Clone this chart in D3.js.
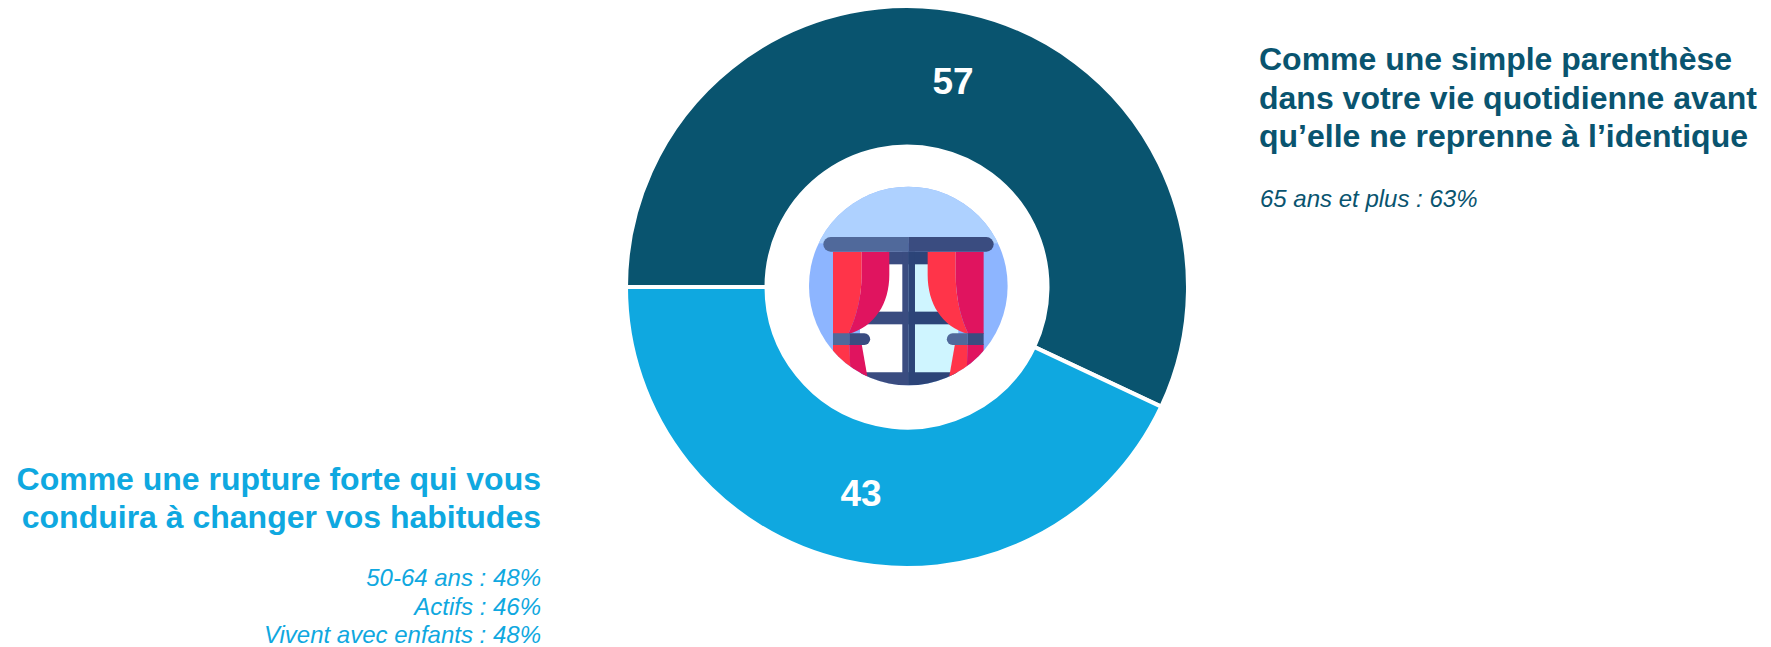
<!DOCTYPE html>
<html><head><meta charset="utf-8">
<script src="https://cdn.jsdelivr.net/npm/d3@7"></script>
<style>html,body{margin:0;padding:0;background:#fff}svg{display:block}text{font-family:"Liberation Sans",Arial,sans-serif}</style>
</head><body><svg id="c" width="1771" height="647"></svg>
<script>
const categories = ["Comme une simple parenthèse dans votre vie quotidienne avant qu’elle ne reprenne à l’identique","Comme une rupture forte qui vous conduira à changer vos habitudes"];
const values = [57,43];
const colors = ["#09546F","#0FA8E0"];
const titleRight = ["Comme une simple parenthèse","dans votre vie quotidienne avant","qu’elle ne reprenne à l’identique"];
const noteRight = ["65 ans et plus : 63%"];
const titleLeft = ["Comme une rupture forte qui vous","conduira à changer vos habitudes"];
const noteLeft = ["50-64 ans : 48%","Actifs : 46%","Vivent avec enfants : 48%"];

const svg = d3.select("#c");
const cx=907, cy=287, R=281, r=140.5;
const pie = d3.pie().sort(null).startAngle(-Math.PI/2).endAngle(Math.PI*1.5);
const arc = d3.arc().innerRadius(r).outerRadius(R);
const g = svg.append("g").attr("transform",`translate(${cx},${cy})`);
const arcs = pie(values);
g.selectAll("path").data(arcs).join("path").attr("d",arc)
  .attr("fill",(d,i)=>colors[i]).attr("stroke","#fff").attr("stroke-width",4);
g.selectAll("text").data(arcs).join("text")
  .attr("x",d=>arc.centroid(d)[0]).attr("y",d=>arc.centroid(d)[1]+13)
  .attr("text-anchor","middle").attr("font-weight","700").attr("font-size",37).attr("fill","#fff").text(d=>d.value);

function lines(arr,x,ys,anchor,size,weight,style,color){
  svg.append("g").selectAll("text").data(arr).join("text")
   .attr("x",x).attr("y",(d,i)=>ys[i]).attr("text-anchor",anchor).attr("font-size",size)
   .attr("font-weight",weight).attr("font-style",style).attr("fill",color).text(d=>d);
}
lines(titleRight,1259,[70,109,147],"start",32,700,"normal",colors[0]);
lines(noteRight,1260,[207],"start",24,400,"italic",colors[0]);
lines(titleLeft,541,[490,528],"end",32,700,"normal",colors[1]);
lines(noteLeft,541,[586,615,643],"end",24,400,"italic",colors[1]);

// window icon (decorative), in 3x-zoom local coordinates
const ic = svg.append("g").attr("transform","translate(760,140) scale(0.3333)");
ic.append("clipPath").attr("id","ico").append("circle").attr("cx",445).attr("cy",438).attr("r",298);
const c = ic.append("g").attr("clip-path","url(#ico)");
const rect=(p,x,y,w,h,f,rx)=>p.append("rect").attr("x",x).attr("y",y).attr("width",w).attr("height",h).attr("fill",f).attr("rx",rx||0);
const path=(p,d,f)=>p.append("path").attr("d",d).attr("fill",f);
rect(c,140,135,610,610,"#8DB5FF");
rect(c,140,135,610,175,"#AED1FF");
rect(c,300,335,145,400,"#FFFFFF");
rect(c,445,335,150,400,"#CFF5FF");
rect(c,320,515,125,38,"#3A4C80");
rect(c,445,515,125,38,"#2C4478");
rect(c,380,335,65,38,"#3A4C80");
rect(c,445,335,65,38,"#2C4478");
rect(c,427,335,18,400,"#3A4C80");
rect(c,445,335,20,400,"#2C4478");
path(c,"M300,697H445V740H300Z","#3A4C80");
path(c,"M445,697H600V740H445Z","#2C4478");
// left curtain
path(c,"M219,335H305V400C305,470 290,530 265,582H219Z","#FF3449");
path(c,"M305,335H388V405C388,490 345,560 265,582C290,530 305,470 305,400Z","#E0145F");
path(c,"M219,612H268L272,700H219Z","#FF3449");
path(c,"M268,612H305L323,715H272Z","#E0145F");
// right curtain
path(c,"M503,335H587V400C587,470 600,530 625,582C545,560 503,490 503,405Z","#FF3449");
path(c,"M587,335H671V582H625C600,530 587,470 587,400Z","#E0145F");
path(c,"M585,612H623L620,715H567Z","#FF3449");
path(c,"M623,612H671V700H620Z","#E0145F");
// tie-backs
path(c,"M219,580H268V615H219Z","#50699B");
path(c,"M268,580H313A17.5,17.5 0 0 1 313,615H268Z","#3A4C80");
path(c,"M623,580H578A17.5,17.5 0 0 0 578,615H623Z","#50699B");
path(c,"M623,580H671V615H623Z","#3A4C80");
// rod (extends past the circle)
path(ic,"M445,291H212A22,22 0 0 0 212,335H445Z","#50699B");
path(ic,"M445,291H679A22,22 0 0 1 679,335H445Z","#3A4C80");
</script></body></html>
